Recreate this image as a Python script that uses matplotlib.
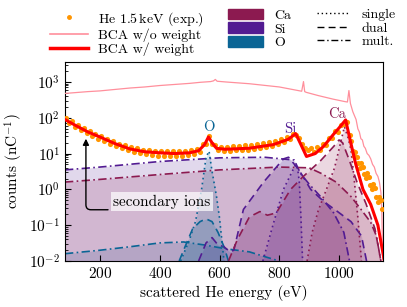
import matplotlib
matplotlib.use("Agg")
import matplotlib.pyplot as plt
from matplotlib.lines import Line2D
from matplotlib.patches import Patch
from matplotlib.ticker import LogLocator, NullFormatter

plt.rcParams["font.family"] = "cmr10"
plt.rcParams["mathtext.fontset"] = "cm"
plt.rcParams["axes.formatter.use_mathtext"] = True
plt.rcParams["axes.unicode_minus"] = False

col_ca = "#8c1a50"
col_si = "#521b92"
col_o = "#0a6595"
col_exp = "#ff9500"
col_pink = "#ff8f9c"

# experiment (counts per nC), every 10 eV
exp_energy = list(range(85, 1146, 10))
exp_counts = [100, 70, 80, 56, 64, 45, 53, 37, 43, 31, 36, 26, 31, 22.5, 26, 18.5, 22, 15.8, 19, 14,
              17, 12.3, 15, 11, 14, 10.2, 12.8, 9.6, 12.2, 9.0, 12, 8.8, 12, 8.6, 11.8, 8.7, 11.5, 8.5,
              12, 8.8, 12, 9.0, 12.5, 9.8, 13.5, 11, 18, 19, 30, 18, 17.5, 12.5, 15.5, 11.8,
              15.5, 12, 16, 12.2, 16.5, 12.5, 16.8, 12.6, 17, 13.2, 18, 14, 19.2, 15, 20.5, 16,
              22, 18, 25, 20.5, 28.5, 25, 36, 32, 27, 18.5, 14.5, 12.5, 14, 11, 15, 12.5, 18, 17.5, 27,
              27, 42, 41, 64, 66, 75, 34, 12, 11, 5.5, 5.5, 2.7, 2.8, 1.35, 1.4, 0.62, 0.62, 0.28]
# extra points in the high-energy tail, where the measured cloud is wide
exp_tail_energy = [1040, 1050, 1060, 1070, 1080, 1090, 1100, 1110, 1120, 1130, 1140]
exp_tail_counts = [22, 8.5, 8.0, 4.0, 4.3, 2.1, 2.2, 1.0, 1.1, 0.45, 0.5]

# BCA without weighting
bca_raw_energy = [83, 100, 130, 160, 200, 250, 300, 350, 400, 450, 500, 536, 570, 580, 586, 592,
                  620, 700, 800, 850, 875, 881, 885, 890, 930, 980, 1020, 1028, 1033, 1038, 1046,
                  1052, 1057, 1063, 1068, 1073, 1078, 1083, 1088, 1094, 1100, 1106, 1112, 1118,
                  1124, 1130, 1135, 1140, 1143, 1146]
bca_raw_counts = [479, 490, 513, 537, 562, 617, 676, 724, 794, 851, 912, 977, 1023, 1072, 1175, 1047,
                  1000, 891, 724, 603, 550, 1023, 537, 513, 417, 331, 282, 275, 575, 251, 148,
                  112, 89, 49, 40, 26, 24, 16, 14, 10, 8.9, 7.1, 5.0, 4.2,
                  2.8, 2.3, 1.6, 0.83, 0.25, 0.01]

# BCA with weighting
bca_energy = [83, 120, 160, 200, 250, 300, 350, 400, 450, 500, 530, 550, 563, 575, 590, 620, 700,
              780, 830, 855, 875, 891, 920, 948, 982, 1000, 1022, 1036, 1056, 1080, 1106, 1130, 1150]
bca_counts = [89, 60, 40, 29, 19, 13.5, 11.2, 10.5, 10, 10.5, 12, 17.8, 29, 20, 14, 13.2, 14.1,
              17.8, 25, 36, 16, 8.3, 10, 15.8, 35, 52, 87, 26, 5.0, 1.0, 0.38, 0.10, 0.012]

# components (element, process)
o_single_e = [470, 500, 520, 540, 555, 565, 575, 590, 600, 615]
o_single = [0.01, 0.04, 0.13, 1.0, 7.9, 11.7, 3.2, 0.63, 0.16, 0.01]
o_dual_e = [465, 490, 510, 535, 555, 575, 595, 615, 630]
o_dual = [0.01, 0.032, 0.079, 0.126, 0.15, 0.126, 0.063, 0.025, 0.01]
o_mult_e = [83, 200, 300, 400, 480, 550, 620, 700, 760, 800]
o_mult = [0.016, 0.02, 0.025, 0.032, 0.034, 0.028, 0.022, 0.018, 0.0126, 0.01]

si_single_e = [745, 781, 814, 840, 855, 862, 867, 872, 878]
si_single = [0.01, 0.117, 1.0, 2.8, 5.0, 3.5, 1.6, 0.2, 0.01]
si_dual_e = [530, 555, 575, 595, 615, 635, 648, 680, 747, 814, 831, 865, 905, 950, 995, 1040, 1075, 1092]
si_dual = [0.01, 0.032, 0.045, 0.028, 0.025, 0.018, 0.02, 0.275, 1.58, 7.1, 7.9, 3.6, 1.0, 0.45,
           0.24, 0.126, 0.05, 0.01]
si_mult_e = [83, 200, 400, 600, 750, 850, 871, 900, 938, 982, 1016, 1035]
si_mult = [3.5, 4.2, 6.0, 7.6, 7.9, 6.6, 2.8, 1.4, 0.63, 0.22, 0.063, 0.01]

ca_single_e = [893, 910, 930, 960, 985, 1005, 1018, 1030, 1040, 1050, 1063, 1075]
ca_single = [0.01, 0.063, 0.25, 1.12, 4.0, 20, 56, 28, 12.6, 2.2, 0.16, 0.01]
ca_dual_e = [630, 660, 700, 735, 760, 790, 838, 878, 938, 982, 1000, 1012, 1035, 1060, 1090, 1120, 1140]
ca_dual = [0.01, 0.04, 0.17, 0.24, 0.19, 0.22, 1.0, 2.2, 6.3, 15.8, 24, 20, 6.3, 1.6, 0.4, 0.08, 0.01]
ca_mult_e = [83, 200, 400, 600, 800, 900, 940, 990, 1040, 1073, 1106, 1125, 1140]
ca_mult = [1.6, 1.9, 2.6, 3.5, 4.2, 4.0, 2.8, 1.6, 0.63, 0.28, 0.12, 0.05, 0.01]

ls_single = (0, (1, 2))
ls_dual = (0, (5, 3))
ls_mult = (0, (5, 2, 1, 2))

components = [
    (o_mult_e, o_mult, col_o, ls_mult),
    (si_mult_e, si_mult, col_si, ls_mult),
    (ca_mult_e, ca_mult, col_ca, ls_mult),
    (o_dual_e, o_dual, col_o, ls_dual),
    (si_dual_e, si_dual, col_si, ls_dual),
    (ca_dual_e, ca_dual, col_ca, ls_dual),
    (o_single_e, o_single, col_o, ls_single),
    (si_single_e, si_single, col_si, ls_single),
    (ca_single_e, ca_single, col_ca, ls_single),
]

fig = plt.figure(figsize=(4.07, 3.07), dpi=100)
ax = fig.add_axes([0.1597, 0.1498, 0.7813, 0.6482])

for e, v, c, ls in components:
    ax.fill_between(e, v, 1e-5, color=c, alpha=0.17, lw=0)
    ax.plot(e, v, color=c, ls=ls, lw=1.2)

ax.plot(bca_raw_energy, bca_raw_counts, color=col_pink, lw=0.9, zorder=4)
ax.plot(exp_energy + exp_tail_energy, exp_counts + exp_tail_counts, ls="none", marker="o",
        ms=3.7, mew=0, color=col_exp, zorder=5)
ax.plot(bca_energy, bca_counts, color="red", lw=2.2, zorder=6)

ax.text(566, 56, "O", color=col_o, fontsize=10.5, ha="center", va="center")
ax.text(838, 47, "Si", color=col_si, fontsize=10.5, ha="center", va="center")
ax.text(992, 125, "Ca", color=col_ca, fontsize=10.5, ha="center", va="center")

ax.text(244, 0.45, "secondary ions", fontsize=11, ha="left", va="center",
        bbox=dict(boxstyle="square,pad=0.15", fc="white", ec="none", alpha=0.7))
ax.annotate("", xy=(153, 26), xytext=(227, 0.27),
            arrowprops=dict(arrowstyle="-|>", color="black", lw=1.0, mutation_scale=9,
                            shrinkA=0, shrinkB=0,
                            connectionstyle="angle,angleA=0,angleB=90,rad=5"))

ax.set_yscale("log")
ax.set_xlim(83, 1147)
ax.set_ylim(1e-2, 3.6e3)
ax.set_xticks([200, 400, 600, 800, 1000])
ax.yaxis.set_minor_locator(LogLocator(base=10, subs=range(2, 10), numticks=100))
ax.yaxis.set_minor_formatter(NullFormatter())
ax.tick_params(which="both", direction="in", labelsize=11)
ax.tick_params(which="major", length=4)
ax.tick_params(which="minor", length=2)
ax.set_xlabel("scattered He energy (eV)", fontsize=11, labelpad=3)
ax.set_ylabel("counts (nC$^{-1}$)", fontsize=11, labelpad=3)

h1 = [Line2D([], [], ls="none", marker="o", ms=2.5, color=col_exp),
      Line2D([], [], color=col_pink, lw=1.2),
      Line2D([], [], color="red", lw=2.5)]
l1 = ["He 1.5$\\,$keV (exp.)", "BCA w/o weight", "BCA w/ weight"]
leg1 = fig.legend(h1, l1, loc="upper left", bbox_to_anchor=(0.123, 0.968), frameon=False,
                  fontsize=10, handlelength=2.7, handletextpad=0.75, labelspacing=0.05,
                  borderpad=0, borderaxespad=0)

h2 = [Patch(color=col_ca), Patch(color=col_si), Patch(color=col_o)]
leg2 = fig.legend(h2, ["Ca", "Si", "O"], loc="upper left", bbox_to_anchor=(0.560, 0.972),
                  frameon=False, fontsize=10, handlelength=2.5, handleheight=0.8,
                  handletextpad=0.8, labelspacing=0.05, borderpad=0, borderaxespad=0)

h3 = [Line2D([], [], color="black", ls=ls_single, lw=1.0),
      Line2D([], [], color="black", ls=ls_dual, lw=1.0),
      Line2D([], [], color="black", ls=ls_mult, lw=1.0)]
leg3 = fig.legend(h3, ["single", "dual", "mult."], loc="upper left", bbox_to_anchor=(0.779, 0.972),
                  frameon=False, fontsize=10, handlelength=2.4, handletextpad=0.8,
                  labelspacing=0.05, borderpad=0, borderaxespad=0)

fig.savefig("out.png", dpi=100)
